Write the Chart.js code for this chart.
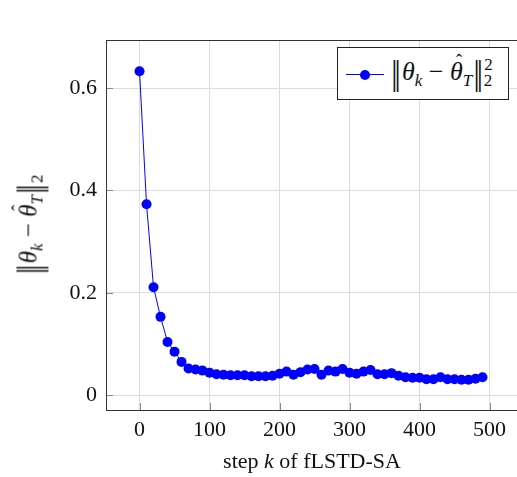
<!DOCTYPE html>
<html>
<head>
<meta charset="utf-8">
<script src="https://cdn.jsdelivr.net/npm/chart.js@4"></script>
<style>
  body { margin: 0; background: #fff; }
  #wrap { position: relative; width: 517px; height: 477px; font-family: "Liberation Serif", serif; overflow: hidden; }
  canvas { position: absolute; left: 0; top: 0; }
  .math { font-family: "Liberation Serif", serif; font-size: 25px; white-space: nowrap; color: #111; }
  .math i { font-style: italic; }
  .norm sub, .norm sup { font-size: 17px; }
  .bar { display: inline-block; transform: scaleY(1.6); font-family: "DejaVu Serif", serif; font-size: 20px; margin: 0 1px; }
  .hat { position: relative; display: inline-block; }
  .hat b { position: absolute; left: 6px; top: -6px; font-weight: normal; font-style: normal; font-size: 18px; }
  #ytitle { position: absolute; left: 31px; top: 225px; transform: translate(-50%, -50%) rotate(-90deg); }
  #xtitle { position: absolute; left: 312px; top: 461px; transform: translate(-50%, -50%); font-size: 22px; }
  #legend { position: absolute; left: 337px; top: 47px; width: 172px; height: 53px; border: 1px solid #222; background: #fff; box-sizing: border-box; }
  #legend .ln { position: absolute; left: 8px; top: 26px; width: 38px; height: 1px; background: blue; }
  #legend .mk { position: absolute; left: 22px; top: 22px; width: 10px; height: 10px; border-radius: 50%; background: blue; }
  #legend .txt { position: absolute; left: 52px; top: 7px; font-size: 26px; }
</style>
</head>
<body>
<div id="wrap">
  <canvas id="chart" width="540" height="477"></canvas>
  <div id="ytitle" class="math norm"><span class="bar">‖</span><i>θ</i><sub><i>k</i></sub> − <span class="hat"><i>θ</i><b>ˆ</b></span><sub><i>T</i></sub><span class="bar">‖</span><sub>2</sub></div>
  <div id="xtitle" class="math">step <i>k</i> of fLSTD-SA</div>
  <div id="legend">
    <div class="ln"></div><div class="mk"></div>
    <div class="txt math norm"><span class="bar">‖</span><i>θ</i><sub><i>k</i></sub> − <span class="hat"><i>θ</i><b>ˆ</b></span><sub><i>T</i></sub><span class="bar">‖</span><sup>2</sup><sub style="margin-left:-9px">2</sub></div>
  </div>
</div>
<script>
const steps = [0, 10, 20, 30, 40, 50, 60, 70, 80, 90,
  100, 110, 120, 130, 140, 150, 160, 170, 180, 190,
  200, 210, 220, 230, 240, 250, 260, 270, 280, 290,
  300, 310, 320, 330, 340, 350, 360, 370, 380, 390,
  400, 410, 420, 430, 440, 450, 460, 470, 480, 490];
const errors = [0.633, 0.373, 0.211, 0.153, 0.104, 0.085, 0.065, 0.052, 0.050, 0.048,
  0.044, 0.041, 0.040, 0.039, 0.039, 0.039, 0.037, 0.037, 0.037, 0.038,
  0.042, 0.046, 0.040, 0.045, 0.050, 0.051, 0.040, 0.048, 0.046, 0.051,
  0.044, 0.042, 0.046, 0.049, 0.041, 0.041, 0.043, 0.038, 0.035, 0.034,
  0.034, 0.031, 0.031, 0.035, 0.031, 0.031, 0.030, 0.030, 0.032, 0.035];
const xTicks = [0, 100, 200, 300, 400, 500];
const yTicks = [0, 0.2, 0.4, 0.6];

// frame + inner tick marks like pgfplots
const frame = {
  id: "frame",
  afterDraw(chart) {
    const { ctx, chartArea: a, scales } = chart;
    ctx.save();
    ctx.strokeStyle = "#888";
    ctx.lineWidth = 1;
    xTicks.forEach(v => {
      const x = Math.round(scales.x.getPixelForValue(v)) + 0.5;
      ctx.beginPath(); ctx.moveTo(x, a.bottom); ctx.lineTo(x, a.bottom - 7); ctx.stroke();
    });
    yTicks.forEach(v => {
      const y = Math.round(scales.y.getPixelForValue(v)) + 0.5;
      ctx.beginPath(); ctx.moveTo(a.left, y); ctx.lineTo(a.left + 7, y); ctx.stroke();
    });
    ctx.strokeStyle = "#333";
    ctx.strokeRect(a.left + 0.5, a.top + 0.5, a.right - a.left, a.bottom - a.top);
    ctx.restore();
  }
};

new Chart(document.getElementById("chart"), {
  type: "line",
  data: {
    datasets: [{
      data: steps.map((s, i) => ({ x: s, y: errors[i] })),
      borderColor: "blue",
      backgroundColor: "blue",
      borderWidth: 1,
      pointRadius: 5,
      pointHoverRadius: 5,
      pointBorderWidth: 0,
      tension: 0
    }]
  },
  options: {
    responsive: false,
    animation: false,
    layout: { padding: { top: 40, right: 0, left: 0, bottom: 0 } },
    plugins: { legend: { display: false }, tooltip: { enabled: false } },
    scales: {
      x: {
        type: "linear",
        min: -47.9, max: 565,
        afterBuildTicks: s => { s.ticks = xTicks.map(v => ({ value: v })); },
        afterFit: s => { s.height = 67; },
        grid: { color: "#dcdcdc", drawTicks: false },
        border: { display: false },
        ticks: { padding: 7, color: "#111", font: { family: "Liberation Serif", size: 22 }, maxRotation: 0 }
      },
      y: {
        min: -0.029, max: 0.694,
        afterBuildTicks: s => { s.ticks = yTicks.map(v => ({ value: v })); },
        afterFit: s => { s.width = 106; },
        grid: { color: "#dcdcdc", drawTicks: false },
        border: { display: false },
        ticks: { padding: 9, color: "#111", font: { family: "Liberation Serif", size: 22 }, callback: v => String(v) }
      }
    }
  },
  plugins: [frame]
});
</script>
</body>
</html>
